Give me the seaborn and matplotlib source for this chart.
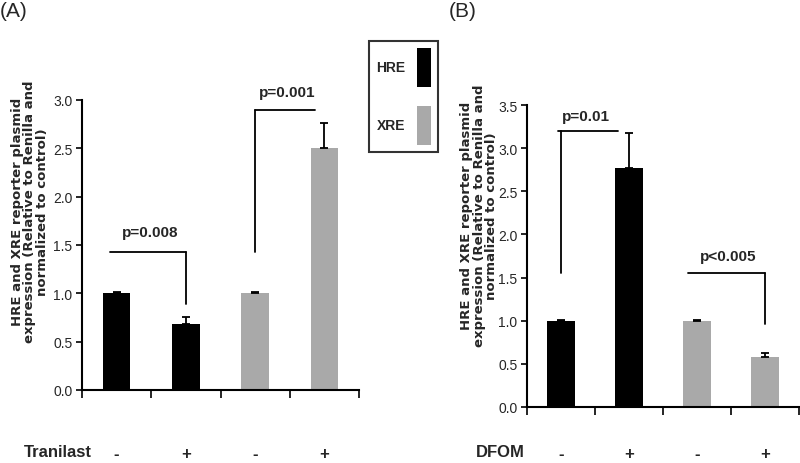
import matplotlib
matplotlib.use('Agg')
import matplotlib.pyplot as plt
import seaborn as sns
import pandas as pd
from matplotlib.patches import Patch
from matplotlib.ticker import FixedLocator

# ---------------- data ----------------
conditions = ['HRE -', 'HRE +', 'XRE -', 'XRE +']
groups = ['HRE', 'HRE', 'XRE', 'XRE']
treatment_labels = ['-', '+', '-', '+']

tranilast_values = [1.00, 0.68, 1.00, 2.50]
tranilast_errors = [0.01, 0.08, 0.01, 0.26]

dfom_values = [1.00, 2.77, 1.00, 0.58]
dfom_errors = [0.01, 0.40, 0.01, 0.05]

# significance brackets: (x_start, x_end, y_bar, x_drop, y_drop_end, text, text_x, text_y)
tranilast_brackets = [
    (-0.10, 1.00, 1.43, 1.00, 0.89, 'p=0.008', 0.48, 1.59),
    (2.00, 2.87, 2.90, 2.00, 1.43, 'p=0.001', 2.47, 3.04),
]
dfom_brackets = [
    (-0.04, 0.84, 3.20, 0.00, 1.55, 'p=0.01', 0.36, 3.33),
    (1.87, 3.00, 1.55, 3.00, 0.96, 'p<0.005', 2.46, 1.70),
]

palette = {'HRE': '#000000', 'XRE': '#a9a9a9'}
ylabel = 'HRE and XRE reporter plasmid\nexpression (Relative to Renilla and\nnormalized to control)'

sns.set_theme(style='white')
plt.rcParams['font.family'] = ['Liberation Sans', 'DejaVu Sans']

fig = plt.figure(figsize=(8, 4.64), dpi=100)
ax1 = fig.add_axes([82 / 800, 1 - 391 / 464, (359 - 82) / 800, (391 - 101) / 464])
ax2 = fig.add_axes([527 / 800, 1 - 408 / 464, (799 - 527) / 800, (408 - 106) / 464])


def draw_panel(ax, values, errors, brackets, ymax, label_pad):
    df = pd.DataFrame({'cond': conditions, 'val': values, 'grp': groups})
    sns.barplot(data=df, x='cond', y='val', hue='grp', order=conditions,
                palette=palette, dodge=False, width=0.4, ax=ax,
                legend=False, errorbar=None, saturation=1, linewidth=0)
    xs = list(range(len(conditions)))
    ax.errorbar(xs, values, yerr=[[0] * len(errors), errors], fmt='none',
                ecolor='black', elinewidth=1.3, capsize=3, capthick=1.3)
    for (x0, x1, yb, xd, yd, txt, tx, ty) in brackets:
        ax.plot([x0, x1], [yb, yb], color='black', lw=1.3, clip_on=False)
        ax.plot([xd, xd], [yb, yd], color='black', lw=1.3, clip_on=False)
        ax.text(tx, ty, txt, ha='center', va='baseline', fontsize=11,
                fontweight='bold', clip_on=False)
    ax.set_xlim(-0.5, 3.5)
    ax.set_ylim(0, ymax)
    ticks = [i * 0.5 for i in range(int(ymax / 0.5) + 1)]
    ax.set_yticks(ticks)
    ax.set_yticklabels([f'{t:.1f}' for t in ticks], fontsize=10)
    ax.set_xticks(xs)
    ax.set_xticklabels(treatment_labels, fontsize=12, fontweight='bold')
    ax.xaxis.set_minor_locator(FixedLocator([-0.5, 0.5, 1.5, 2.5, 3.5]))
    ax.tick_params(axis='x', which='major', length=0, pad=label_pad)
    ax.tick_params(axis='x', which='minor', length=6, width=1.2, color='black',
                   direction='out', bottom=True)
    ax.tick_params(axis='y', length=4, width=1.2, color='black', direction='out',
                   left=True, pad=3)
    ax.set_xlabel('')
    ax.set_ylabel('')
    for s in ['top', 'right']:
        ax.spines[s].set_visible(False)
    for s in ['left', 'bottom']:
        ax.spines[s].set_color('black')
        ax.spines[s].set_linewidth(1.5)


draw_panel(ax1, tranilast_values, tranilast_errors, tranilast_brackets, 3.0, 40)
draw_panel(ax2, dfom_values, dfom_errors, dfom_brackets, 3.5, 28)

# y labels
for cx, cy in [(30, 212), (479, 216)]:
    fig.text(cx / 800, 1 - cy / 464, ylabel, rotation=90, ha='center', va='center',
             fontsize=9.5, fontweight='bold', linespacing=0.95, family='DejaVu Sans',
             multialignment='center')

# treatment row labels
fig.text(58 / 800, 1 - 453 / 464, 'Tranilast', ha='center', va='center',
         fontsize=12, fontweight='bold')
fig.text(500 / 800, 1 - 453 / 464, 'DFOM', ha='center', va='center',
         fontsize=12, fontweight='bold')

# panel labels
fig.text(0.0, 0.995, '(A)', ha='left', va='top', fontsize=15)
fig.text(449 / 800, 0.995, '(B)', ha='left', va='top', fontsize=15)

# legend
handles = [Patch(facecolor=palette['HRE'], edgecolor='none', label='HRE'),
           Patch(facecolor=palette['XRE'], edgecolor='none', label='XRE')]
leg = fig.legend(handles=handles, loc='upper left',
                 bbox_to_anchor=(369 / 800, 1 - 42 / 464), borderaxespad=0,
                 markerfirst=False, handlelength=1.0, handleheight=4.0,
                 labelspacing=1.3, handletextpad=0.85, borderpad=0.5,
                 frameon=True, fancybox=False, prop={'size': 10, 'weight': 'bold'})
leg.get_frame().set_edgecolor('black')
leg.get_frame().set_linewidth(1.5)

fig.savefig('out.png', dpi=100)
